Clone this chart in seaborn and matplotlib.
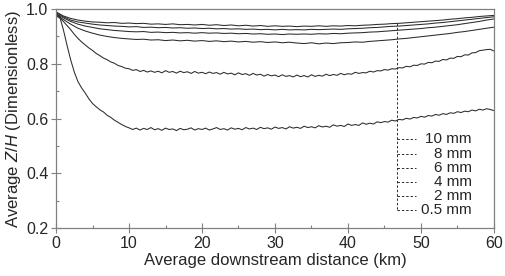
import numpy as np
import pandas as pd
import seaborn as sns
import matplotlib.pyplot as plt
from matplotlib.ticker import MultipleLocator

# average Z/H along the channel for each grain size
# coarse sizes at 1 km steps, the two fine sizes at 0.5 km steps
distance_km = np.arange(0, 61, 1)
distance_fine_km = np.arange(0, 60.5, 0.5)

zh_10mm = [0.990, 0.975, 0.966, 0.960, 0.956, 0.953, 0.952, 0.950, 0.951, 0.948,
           0.949, 0.947, 0.948, 0.945, 0.946, 0.944, 0.946, 0.943, 0.944, 0.942,
           0.944, 0.941, 0.943, 0.940, 0.942, 0.939, 0.941, 0.938, 0.940, 0.937,
           0.939, 0.937, 0.938, 0.936, 0.938, 0.937, 0.939, 0.937, 0.939, 0.938,
           0.940, 0.939, 0.941, 0.942, 0.944, 0.945, 0.947, 0.948, 0.950, 0.952,
           0.954, 0.956, 0.958, 0.960, 0.963, 0.965, 0.968, 0.970, 0.973, 0.975,
           0.977]
zh_8mm = [0.987, 0.972, 0.960, 0.953, 0.949, 0.945, 0.942, 0.940, 0.938, 0.937,
          0.935, 0.936, 0.933, 0.934, 0.932, 0.933, 0.931, 0.932, 0.930, 0.931,
          0.929, 0.930, 0.928, 0.929, 0.927, 0.928, 0.926, 0.927, 0.925, 0.926,
          0.924, 0.926, 0.924, 0.925, 0.924, 0.926, 0.925, 0.926, 0.927, 0.926,
          0.928, 0.929, 0.930, 0.932, 0.933, 0.935, 0.937, 0.938, 0.940, 0.942,
          0.944, 0.946, 0.949, 0.951, 0.954, 0.957, 0.960, 0.963, 0.966, 0.969,
          0.972]
zh_6mm = [0.983, 0.968, 0.955, 0.945, 0.938, 0.933, 0.928, 0.925, 0.922, 0.920,
          0.918, 0.917, 0.918, 0.915, 0.916, 0.914, 0.915, 0.913, 0.914, 0.912,
          0.914, 0.912, 0.913, 0.911, 0.912, 0.910, 0.911, 0.909, 0.910, 0.908,
          0.909, 0.907, 0.909, 0.908, 0.909, 0.908, 0.910, 0.909, 0.911, 0.910,
          0.912, 0.913, 0.914, 0.916, 0.917, 0.919, 0.921, 0.923, 0.925, 0.927,
          0.929, 0.932, 0.934, 0.937, 0.940, 0.943, 0.947, 0.951, 0.955, 0.960,
          0.964]
zh_4mm = [0.979, 0.962, 0.945, 0.930, 0.920, 0.912, 0.905, 0.900, 0.896, 0.893,
          0.891, 0.889, 0.890, 0.887, 0.888, 0.885, 0.887, 0.884, 0.886, 0.883,
          0.885, 0.882, 0.884, 0.881, 0.883, 0.880, 0.882, 0.879, 0.881, 0.878,
          0.880, 0.877, 0.879, 0.876, 0.874, 0.877, 0.873, 0.876, 0.874, 0.877,
          0.878, 0.880, 0.879, 0.882, 0.884, 0.886, 0.888, 0.891, 0.893, 0.896,
          0.899, 0.902, 0.905, 0.908, 0.911, 0.915, 0.918, 0.922, 0.926, 0.930,
          0.934]
zh_2mm = [0.975, 0.968, 0.955, 0.940, 0.925, 0.908, 0.893, 0.880, 0.869, 0.858,
          0.849, 0.838, 0.830, 0.821, 0.815, 0.807, 0.802, 0.794, 0.790, 0.784,
          0.782, 0.776, 0.779, 0.772, 0.776, 0.770, 0.774, 0.769, 0.773, 0.767,
          0.775, 0.769, 0.772, 0.766, 0.773, 0.768, 0.771, 0.765, 0.772, 0.766,
          0.769, 0.764, 0.770, 0.765, 0.768, 0.762, 0.769, 0.763, 0.766, 0.760,
          0.767, 0.761, 0.764, 0.758, 0.765, 0.759, 0.762, 0.755, 0.761, 0.756,
          0.759, 0.753, 0.760, 0.754, 0.757, 0.752, 0.759, 0.753, 0.757, 0.752,
          0.760, 0.754, 0.758, 0.755, 0.762, 0.757, 0.761, 0.758, 0.765, 0.760,
          0.764, 0.762, 0.769, 0.765, 0.768, 0.767, 0.773, 0.770, 0.775, 0.774,
          0.779, 0.777, 0.782, 0.781, 0.786, 0.785, 0.791, 0.789, 0.795, 0.794,
          0.800, 0.799, 0.805, 0.804, 0.810, 0.809, 0.816, 0.814, 0.821, 0.820,
          0.827, 0.826, 0.833, 0.832, 0.840, 0.841, 0.848, 0.850, 0.852, 0.853,
          0.847]
zh_05mm = [0.985, 0.972, 0.925, 0.868, 0.815, 0.770, 0.735, 0.712, 0.693, 0.672,
           0.655, 0.643, 0.632, 0.624, 0.612, 0.604, 0.594, 0.586, 0.578, 0.571,
           0.566, 0.560, 0.565, 0.558, 0.564, 0.560, 0.567, 0.559, 0.563, 0.557,
           0.565, 0.560, 0.562, 0.556, 0.564, 0.559, 0.561, 0.566, 0.558, 0.563,
           0.560, 0.565, 0.558, 0.562, 0.567, 0.560, 0.563, 0.558, 0.566, 0.561,
           0.564, 0.559, 0.567, 0.562, 0.565, 0.560, 0.568, 0.563, 0.566, 0.561,
           0.569, 0.564, 0.567, 0.562, 0.570, 0.565, 0.568, 0.564, 0.572, 0.567,
           0.570, 0.566, 0.574, 0.569, 0.572, 0.568, 0.577, 0.572, 0.575, 0.571,
           0.580, 0.575, 0.578, 0.575, 0.584, 0.579, 0.583, 0.580, 0.588, 0.585,
           0.589, 0.587, 0.594, 0.591, 0.597, 0.595, 0.601, 0.598, 0.604, 0.602,
           0.608, 0.605, 0.611, 0.609, 0.615, 0.612, 0.618, 0.615, 0.621, 0.619,
           0.625, 0.622, 0.627, 0.625, 0.631, 0.628, 0.634, 0.631, 0.636, 0.633,
           0.629]

series_labels = ['10 mm', '8 mm', '6 mm', '4 mm', '2 mm', '0.5 mm']
series_values = [zh_10mm, zh_8mm, zh_6mm, zh_4mm, zh_2mm, zh_05mm]
series_x = [distance_km] * 4 + [distance_fine_km] * 2

sns.set_style('ticks')
plt.rcParams['font.family'] = ['Liberation Sans', 'DejaVu Sans']
plt.rcParams['mathtext.fontset'] = 'custom'
plt.rcParams['mathtext.it'] = 'Liberation Sans:italic'
plt.rcParams['mathtext.rm'] = 'Liberation Sans'

line_col = '#2b2b2b'
frame_col = '#808080'

fig = plt.figure(figsize=(5.05, 2.76), dpi=100)
ax = fig.add_axes([0.111, 0.174, 0.867, 0.793])

for xs, vals in zip(series_x, series_values):
    df = pd.DataFrame({'km': xs, 'zh': vals})
    sns.lineplot(data=df, x='km', y='zh', ax=ax, color=line_col, lw=0.75)

# bracket-style legend: a dashed drop line with a stub to every label
leg_x = 46.7
leg_top = 0.948
leg_y = [0.524, 0.472, 0.420, 0.369, 0.317, 0.265]
ax.plot([leg_x, leg_x], [leg_top, leg_y[-1]], color=line_col, lw=0.7, ls=(0, (2.5, 2)))
for lab, yy in zip(series_labels, leg_y):
    ax.plot([leg_x, leg_x + 2.6], [yy, yy], color=line_col, lw=0.7, ls=(0, (2.5, 2)))
    ax.text(57.0, yy, lab, ha='right', va='center', fontsize=11)

ax.set_xlim(0, 60)
ax.set_ylim(0.2, 1.0)
ax.xaxis.set_major_locator(MultipleLocator(10))
ax.xaxis.set_minor_locator(MultipleLocator(5))
ax.yaxis.set_major_locator(MultipleLocator(0.2))
ax.yaxis.set_minor_locator(MultipleLocator(0.1))
ax.tick_params(which='major', direction='inout', length=7, width=0.8, color=frame_col,
               labelsize=11.5, pad=2)
ax.tick_params(which='minor', direction='in', length=2.5, width=0.8, color=frame_col)
ax.yaxis.set_major_formatter(plt.FormatStrFormatter('%.1f'))
for s in ax.spines.values():
    s.set_color(frame_col)
    s.set_linewidth(0.9)

ax.set_xlabel('Average downstream distance (km)', fontsize=12, labelpad=2)
ax.set_ylabel('Average $\\it{Z/H}$ (Dimensionless)', fontsize=12, labelpad=2)

plt.savefig('out.png', dpi=100)
plt.close()
